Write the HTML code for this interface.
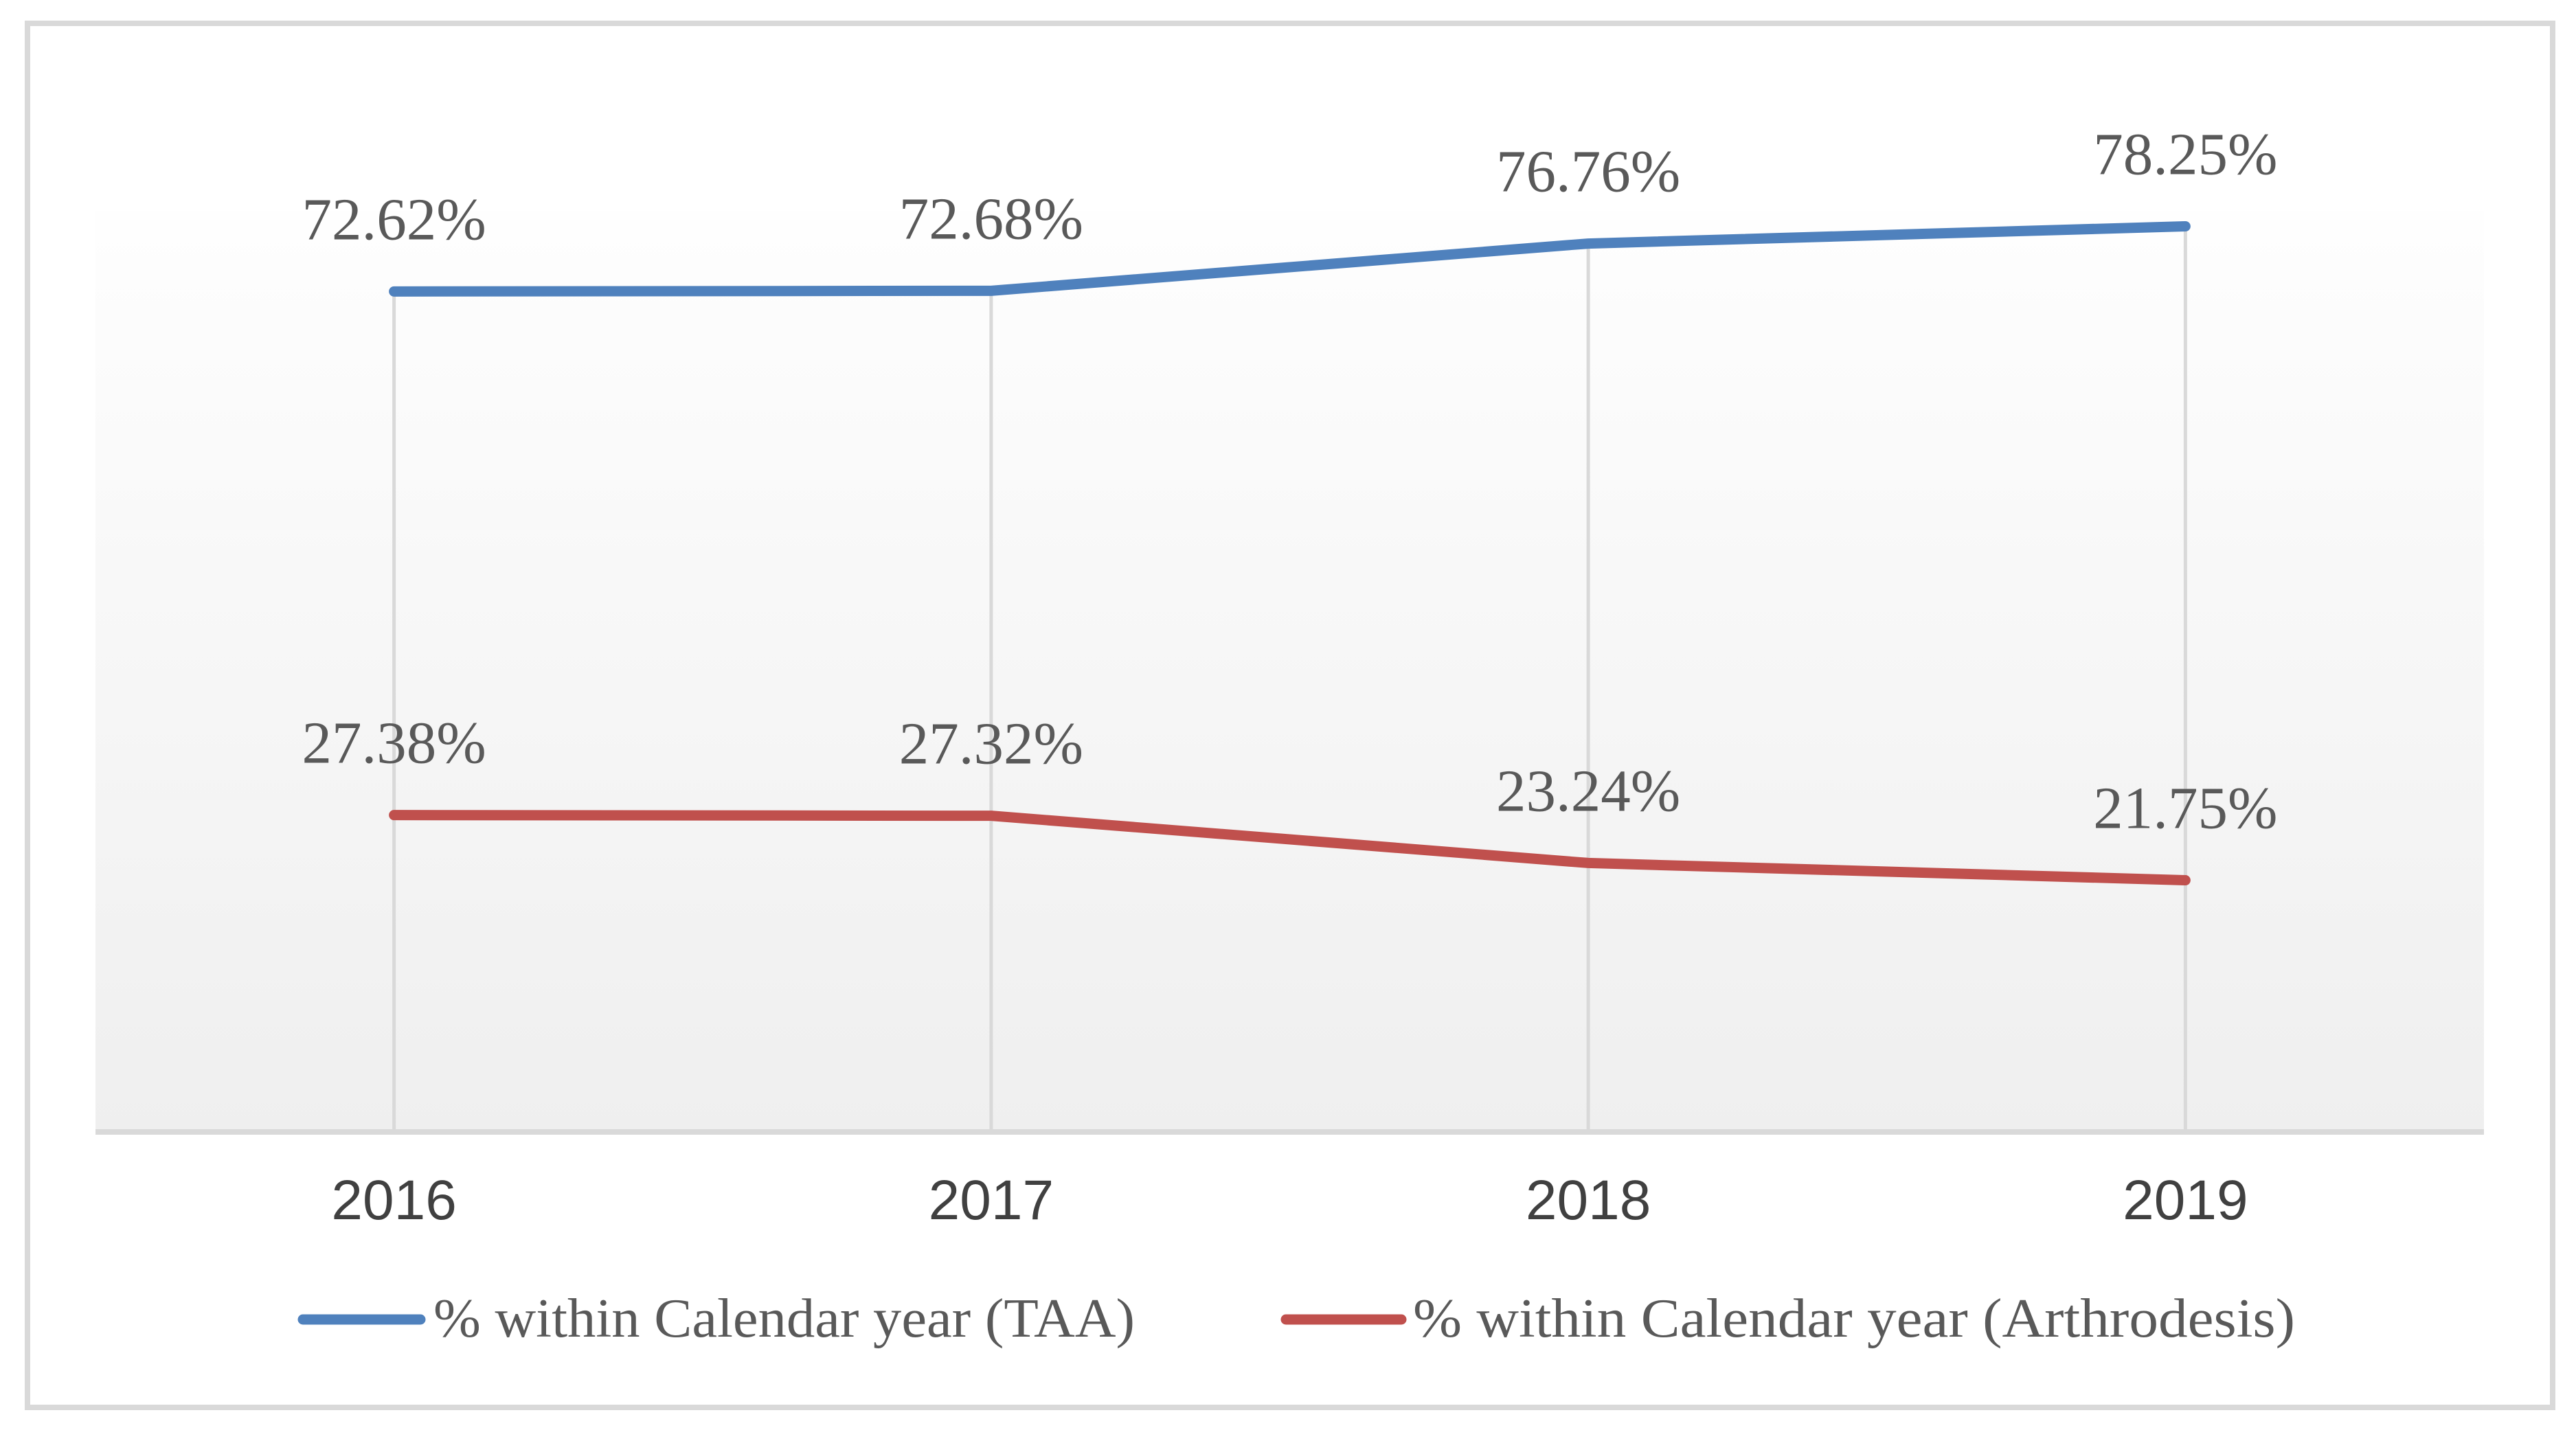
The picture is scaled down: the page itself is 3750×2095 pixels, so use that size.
<!DOCTYPE html>
<html><head><meta charset="utf-8"><style>
html,body{margin:0;padding:0;background:#fff;}
svg{display:block;}
</style></head><body>
<svg id="chart" width="3750" height="2095" viewBox="0 0 3750 2095" xmlns="http://www.w3.org/2000/svg">
<defs>
<linearGradient id="bg" x1="0" y1="0" x2="0" y2="1">
<stop offset="0" stop-color="#fefefe"/>
<stop offset="1" stop-color="#efefef"/>
</linearGradient>
</defs>
<rect x="40" y="34" width="3676" height="2015" fill="#fff" stroke="#d9d9d9" stroke-width="8"/>
<rect x="139" y="307" width="3477" height="1341" fill="url(#bg)"/>
<g id="drops"></g>
<line x1="139" y1="1648" x2="3616" y2="1648" stroke="#d9d9d9" stroke-width="8"/>
<g id="series"></g>
<g id="labels"></g>
<g id="xticks"></g>
<g>
<line x1="441" y1="1921" x2="612" y2="1921" stroke="#4f81bd" stroke-width="15" stroke-linecap="round"/>
<text x="631" y="1946" font-family="Liberation Serif, serif" font-size="80" fill="#595959" textLength="1021" lengthAdjust="spacingAndGlyphs">% within Calendar year (TAA)</text>
<line x1="1872" y1="1921" x2="2040" y2="1921" stroke="#c0504d" stroke-width="15" stroke-linecap="round"/>
<text x="2057" y="1946" font-family="Liberation Serif, serif" font-size="80" fill="#595959" textLength="1284" lengthAdjust="spacingAndGlyphs">% within Calendar year (Arthrodesis)</text>
</g>
</svg>
<script>
const categories = ["2016", "2017", "2018", "2019"];
const taaValues = [72.62, 72.68, 76.76, 78.25];
const arthValues = [27.38, 27.32, 23.24, 21.75];
const taaLabels = ["72.62%", "72.68%", "76.76%", "78.25%"];
const arthLabels = ["27.38%", "27.32%", "23.24%", "21.75%"];

const NS = "http://www.w3.org/2000/svg";
const plotLeft = 139, plotRight = 3616, axisY = 1648, pxPerUnit = 16.85;
function xPos(i){ const step = (plotRight - plotLeft) / categories.length; return plotLeft + step * (i + 0.5); }
function yPos(v){ return axisY - v * pxPerUnit; }
function mk(tag, attrs, parent){ const e = document.createElementNS(NS, tag); for (const k in attrs) e.setAttribute(k, attrs[k]); parent.appendChild(e); return e; }

const drops = document.getElementById('drops');
categories.forEach((c, i) => {
  const top = Math.max(taaValues[i], arthValues[i]);
  const l = mk('line', {x1: xPos(i), x2: xPos(i), y1: yPos(top), y2: axisY, stroke: '#d9d9d9', 'stroke-width': 5}, drops);
  
  
});

const series = document.getElementById('series');
const defs = [
  {vals: taaValues, labels: taaLabels, color: '#4f81bd', name: 'taa'},
  {vals: arthValues, labels: arthLabels, color: '#c0504d', name: 'arthrodesis'}
];
const labelsG = document.getElementById('labels');
defs.forEach(s => {
  const pts = s.vals.map((v, i) => xPos(i) + ',' + yPos(v)).join(' ');
  const p = mk('polyline', {points: pts, fill: 'none', stroke: s.color, 'stroke-width': 15, 'stroke-linecap': 'round', 'stroke-linejoin': 'round'}, series);
  
  
  s.vals.forEach((v, i) => {
    const t = mk('text', {x: xPos(i), y: yPos(v) - 76, 'text-anchor': 'middle', 'font-family': 'Liberation Serif, serif', 'font-size': 87, fill: '#595959'}, labelsG);
    t.textContent = s.labels[i];
    
    
  });
});

const xt = document.getElementById('xticks');
categories.forEach((c, i) => {
  const t = mk('text', {x: xPos(i), y: 1775, 'text-anchor': 'middle', 'font-family': 'Liberation Sans, sans-serif', 'font-size': 82, fill: '#404040'}, xt);
  t.textContent = c;
  
  
});
</script>
</body></html>
